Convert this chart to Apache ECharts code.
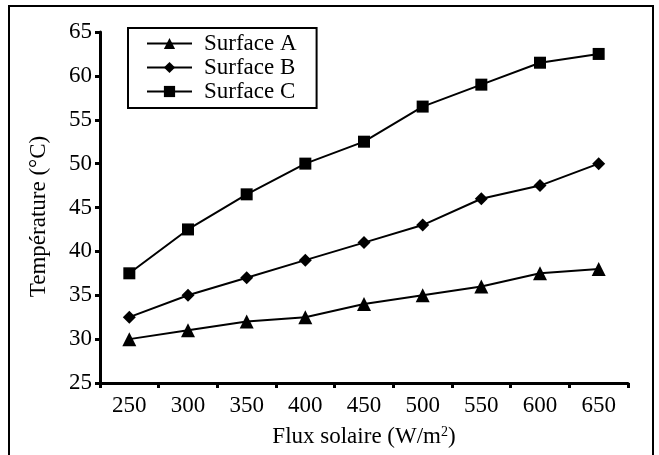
<!DOCTYPE html>
<html>
<head>
<meta charset="utf-8">
<script src="https://cdn.jsdelivr.net/npm/echarts@6/dist/echarts.min.js"></script>
<style>
  html, body { margin: 0; padding: 0; background: #fff; }
  #chart { width: 659px; height: 455px; }
</style>
</head>
<body>
<div id="chart"></div>
<script>
const fluxLabels = ['250', '300', '350', '400', '450', '500', '550', '600', '650']
const surfaceA = [30, 31, 32, 32.5, 34, 35, 36, 37.5, 38]
const surfaceB = [32.5, 35, 37, 39, 41, 43, 46, 47.5, 50]
const surfaceC = [37.5, 42.5, 46.5, 50, 52.5, 56.5, 59, 61.5, 62.5]

const serif = 'Liberation Serif'
const chart = echarts.init(document.getElementById('chart'))

function lineSeries(name, data, symbol, size) {
  return {
    name: name,
    type: 'line',
    data: data,
    symbol: symbol,
    symbolSize: size,
    showAllSymbol: true,
    itemStyle: { color: '#000' },
    lineStyle: { color: '#000', width: 2 },
    animation: false
  }
}

chart.setOption({
  backgroundColor: '#fff',
  graphic: [{
    type: 'rect',
    shape: { x: 9, y: 6, width: 644, height: 470 },
    style: { fill: 'none', stroke: '#000', lineWidth: 2 }
  }],
  grid: { left: 100, right: 31, top: 32, bottom: 72 },
  legend: {
    orient: 'vertical',
    left: 128,
    top: 28,
    padding: [4, 20, 5, 18],
    itemGap: 1,
    itemWidth: 45,
    itemHeight: 14,
    borderColor: '#000',
    borderWidth: 2,
    textStyle: { fontFamily: serif, fontSize: 23, color: '#000', padding: [0, 0, 0, 7] },
    data: ['Surface A', 'Surface B', 'Surface C']
  },
  xAxis: {
    type: 'category',
    data: fluxLabels,
    boundaryGap: true,
    name: '{a|Flux solaire (W/m}{s|2}{a|)}',
    nameLocation: 'middle',
    nameGap: 42,
    nameTextStyle: {
      fontFamily: serif, fontSize: 23, color: '#000',
      rich: {
        a: { fontFamily: serif, fontSize: 23, color: '#000' },
        s: { fontFamily: serif, fontSize: 14, color: '#000', verticalAlign: 'top', padding: [0, 0, 10, 0] }
      }
    },
    axisLine: { lineStyle: { color: '#000', width: 3 } },
    axisTick: { show: true, inside: false, length: 5, lineStyle: { color: '#000', width: 3 } },
    axisLabel: { fontFamily: serif, fontSize: 23, color: '#000', margin: 11 },
    splitLine: { show: false }
  },
  yAxis: {
    type: 'value',
    min: 25,
    max: 65,
    interval: 5,
    name: 'Température (°C)',
    nameLocation: 'middle',
    nameRotate: 90,
    nameGap: 50,
    nameTextStyle: { fontFamily: serif, fontSize: 23, color: '#000', padding: [0, 18, 0, 0] },
    axisLine: { show: true, lineStyle: { color: '#000', width: 3 } },
    axisTick: { show: true, inside: false, length: 5, lineStyle: { color: '#000', width: 3 } },
    axisLabel: { fontFamily: serif, fontSize: 23, color: '#000', margin: 8 },
    splitLine: { show: false }
  },
  series: [
    lineSeries('Surface A', surfaceA, 'triangle', 14),
    lineSeries('Surface B', surfaceB, 'diamond', 13),
    lineSeries('Surface C', surfaceC, 'rect', 12)
  ]
})
</script>
</body>
</html>
